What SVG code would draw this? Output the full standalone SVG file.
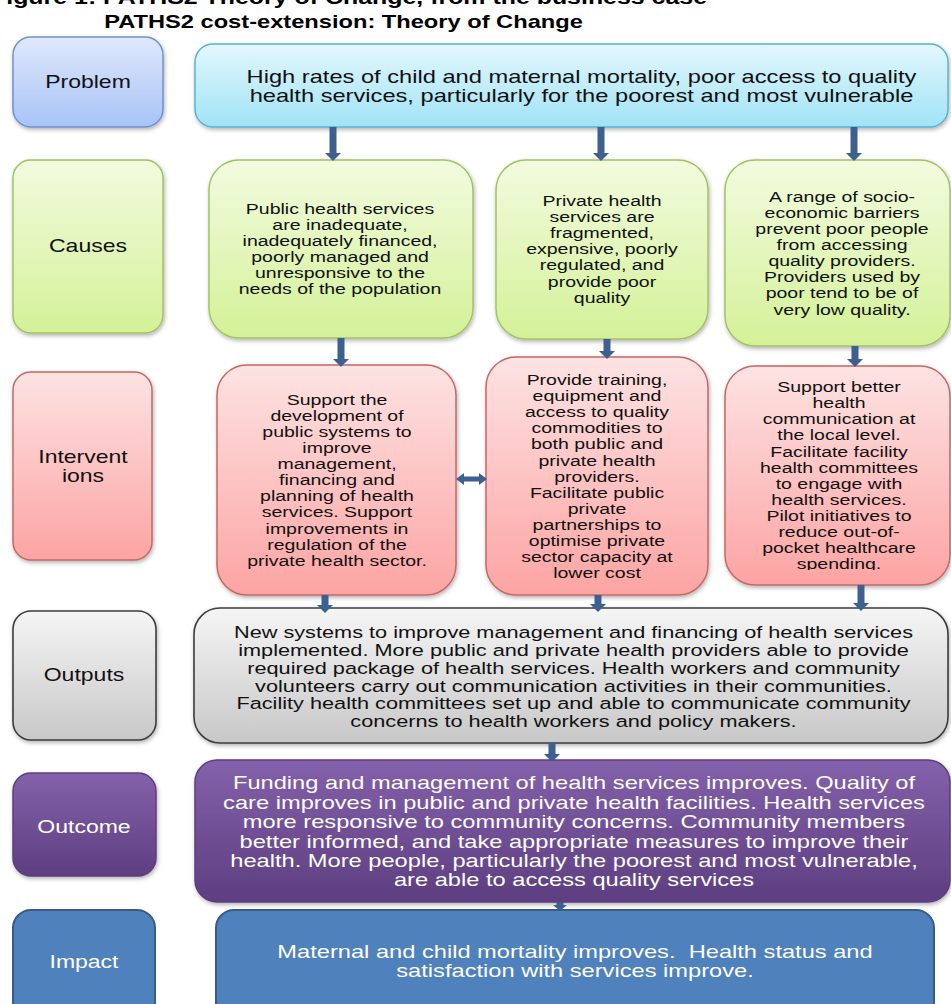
<svg xmlns="http://www.w3.org/2000/svg" width="951" height="1004" viewBox="0 0 951 1004">
<defs>
<linearGradient id="gProbL" x1="0" y1="0" x2="0" y2="1"><stop offset="0" stop-color="#e0e8fc"/><stop offset="1" stop-color="#a7c3f7"/></linearGradient>
<linearGradient id="gProb" x1="0" y1="0" x2="0" y2="1"><stop offset="0" stop-color="#e3f7fd"/><stop offset="1" stop-color="#a0e3f6"/></linearGradient>
<linearGradient id="gCause" x1="0" y1="0" x2="0" y2="1"><stop offset="0" stop-color="#f2fbdf"/><stop offset="1" stop-color="#d4f198"/></linearGradient>
<linearGradient id="gInt" x1="0" y1="0" x2="0" y2="1"><stop offset="0" stop-color="#fde3e3"/><stop offset="1" stop-color="#fca4a3"/></linearGradient>
<linearGradient id="gOut" x1="0" y1="0" x2="0" y2="1"><stop offset="0" stop-color="#f5f5f5"/><stop offset="1" stop-color="#c8c8c8"/></linearGradient>
<linearGradient id="gOc" x1="0" y1="0" x2="0" y2="1"><stop offset="0" stop-color="#8461ab"/><stop offset="1" stop-color="#5d3e80"/></linearGradient>
<filter id="sh" x="-10%" y="-10%" width="120%" height="130%"><feDropShadow dx="1" dy="2" stdDeviation="2" flood-color="#000" flood-opacity="0.3"/></filter>
<clipPath id="clipI3"><rect x="725" y="366" width="226" height="204"/></clipPath>
<style>
text{font-family:"Liberation Sans",Arial,sans-serif;text-anchor:middle;fill:#111;}
.lab{font-size:17.7px;}
.big{font-size:18.2px;}
.mid{font-size:16.7px;}
.sm{font-size:15px;}
.w{fill:#fff;}
.pre{white-space:pre;}
.pl{fill:url(#gProbL);stroke:#6f92cc;stroke-width:1.5;}
.pm{fill:url(#gProb);stroke:#5cb3cf;stroke-width:1.5;}
.cs{fill:url(#gCause);stroke:#a2c262;stroke-width:1.5;}
.iv{fill:url(#gInt);stroke:#c46866;stroke-width:1.5;}
.op{fill:url(#gOut);stroke:#3c3c3c;stroke-width:1.6;}
.oc{fill:url(#gOc);stroke:#5d3e80;stroke-width:1.5;}
.im{fill:#4f81bd;stroke:#375c8a;stroke-width:2;}
.arr{fill:#3d6090;stroke:none;}
</style>
</defs>
<rect width="951" height="1004" fill="#fff"/>

<g id="caption">
<text x="-9" y="3.5" style="text-anchor:start;font-weight:bold;font-size:20px;fill:#000" textLength="716" lengthAdjust="spacingAndGlyphs">Figure 1: PATHS2 Theory of Change, from the business case</text>
</g>
<g id="title">
<g transform="translate(343.5,0) scale(1.3,1)"><text x="0" y="28" style="font-weight:bold;font-size:18.2px;fill:#000">PATHS2 cost-extension: Theory of Change</text></g>
</g>

<g id="label-problem">
<rect class="pl" x="13" y="37" width="150" height="90" rx="18" filter="url(#sh)"/>
<g transform="translate(88,0) scale(1.3,1)"><text class="lab" y="88">Problem</text></g>
</g>
<g id="label-causes">
<rect class="cs" x="13" y="160" width="150" height="173" rx="18" filter="url(#sh)"/>
<g transform="translate(88,0) scale(1.3,1)"><text class="lab" y="252">Causes</text></g>
</g>
<g id="label-interventions">
<rect class="iv" x="13" y="372" width="139" height="188" rx="18" filter="url(#sh)"/>
<g transform="translate(83,0) scale(1.3,1)"><text class="lab" y="463">Intervent</text><text class="lab" y="482">ions</text></g>
</g>
<g id="label-outputs">
<rect class="op" x="13" y="611" width="143" height="129" rx="18" filter="url(#sh)"/>
<g transform="translate(84,0) scale(1.3,1)"><text class="lab" y="681">Outputs</text></g>
</g>
<g id="label-outcome">
<rect class="oc" x="13" y="773" width="143" height="103" rx="18" filter="url(#sh)"/>
<g transform="translate(84,0) scale(1.3,1)"><text class="lab w" y="833">Outcome</text></g>
</g>
<g id="label-impact">
<rect class="im" x="13" y="910" width="142" height="110" rx="18"/>
<g transform="translate(84,0) scale(1.3,1)"><text class="lab w" y="968">Impact</text></g>
</g>

<g id="problem">
<rect class="pm" x="195" y="44" width="753" height="83" rx="18" filter="url(#sh)"/>
<g transform="translate(581.5,0) scale(1.3,1)">
<text class="big" y="83">High rates of child and maternal mortality, poor access to quality</text>
<text class="big" y="102">health services, particularly for the poorest and most vulnerable</text>
</g>
</g>

<g id="cause-public">
<rect class="cs" x="209" y="160" width="264" height="178" rx="30" filter="url(#sh)"/>
<g transform="translate(340,0) scale(1.3,1)">
<text class="sm" y="214">Public health services</text>
<text class="sm" y="230">are inadequate,</text>
<text class="sm" y="246">inadequately financed,</text>
<text class="sm" y="262">poorly managed and</text>
<text class="sm" y="278">unresponsive to the</text>
<text class="sm" y="294">needs of the population</text>
</g>
</g>
<g id="cause-private">
<rect class="cs" x="496" y="160" width="212" height="179" rx="30" filter="url(#sh)"/>
<g transform="translate(602,0) scale(1.3,1)">
<text class="sm" y="206">Private health</text>
<text class="sm" y="222">services are</text>
<text class="sm" y="238">fragmented,</text>
<text class="sm" y="254">expensive, poorly</text>
<text class="sm" y="270">regulated, and</text>
<text class="sm" y="287">provide poor</text>
<text class="sm" y="303">quality</text>
</g>
</g>
<g id="cause-barriers">
<rect class="cs" x="725" y="160" width="225" height="186" rx="30" filter="url(#sh)"/>
<g transform="translate(842,0) scale(1.3,1)">
<text class="sm" y="202">A range of socio-</text>
<text class="sm" y="218">economic barriers</text>
<text class="sm" y="234">prevent poor people</text>
<text class="sm" y="250">from accessing</text>
<text class="sm" y="266">quality providers.</text>
<text class="sm" y="282">Providers used by</text>
<text class="sm" y="298">poor tend to be of</text>
<text class="sm" y="315">very low quality.</text>
</g>
</g>

<g id="int-public">
<rect class="iv" x="217" y="365" width="239" height="230" rx="30" filter="url(#sh)"/>
<g transform="translate(337,0) scale(1.3,1)">
<text class="sm" y="405">Support the</text>
<text class="sm" y="421">development of</text>
<text class="sm" y="437">public systems to</text>
<text class="sm" y="453">improve</text>
<text class="sm" y="469">management,</text>
<text class="sm" y="485">financing and</text>
<text class="sm" y="501">planning of health</text>
<text class="sm" y="517">services. Support</text>
<text class="sm" y="534">improvements in</text>
<text class="sm" y="550">regulation of the</text>
<text class="sm" y="566">private health sector.</text>
</g>
</g>
<g id="int-training">
<rect class="iv" x="486" y="357" width="222" height="238" rx="30" filter="url(#sh)"/>
<g transform="translate(597,0) scale(1.3,1)">
<text class="sm" y="385">Provide training,</text>
<text class="sm" y="401">equipment and</text>
<text class="sm" y="417">access to quality</text>
<text class="sm" y="433">commodities to</text>
<text class="sm" y="449">both public and</text>
<text class="sm" y="466">private health</text>
<text class="sm" y="482">providers.</text>
<text class="sm" y="498">Facilitate public</text>
<text class="sm" y="514">private</text>
<text class="sm" y="530">partnerships to</text>
<text class="sm" y="546">optimise private</text>
<text class="sm" y="562">sector capacity at</text>
<text class="sm" y="578">lower cost</text>
</g>
</g>
<g id="int-communication">
<rect class="iv" x="725" y="366" width="225" height="219" rx="30" filter="url(#sh)"/>
<g clip-path="url(#clipI3)">
<g transform="translate(839,0) scale(1.3,1)">
<text class="sm" y="392">Support better</text>
<text class="sm" y="408">health</text>
<text class="sm" y="424">communication at</text>
<text class="sm" y="440">the local level.</text>
<text class="sm" y="457">Facilitate facility</text>
<text class="sm" y="473">health committees</text>
<text class="sm" y="489">to engage with</text>
<text class="sm" y="505">health services.</text>
<text class="sm" y="521">Pilot initiatives to</text>
<text class="sm" y="537">reduce out-of-</text>
<text class="sm" y="553">pocket healthcare</text>
<text class="sm" y="569">spending.</text>
</g>
</g>
</g>

<g id="outputs">
<rect class="op" x="194" y="608" width="754" height="135" rx="26" filter="url(#sh)"/>
<g transform="translate(573.5,0) scale(1.3,1)">
<text class="mid" y="638">New systems to improve management and financing of health services</text>
<text class="mid" y="656">implemented. More public and private health providers able to provide</text>
<text class="mid" y="674">required package of health services. Health workers and community</text>
<text class="mid" y="692">volunteers carry out communication activities in their communities.</text>
<text class="mid" y="709">Facility health committees set up and able to communicate community</text>
<text class="mid" y="727">concerns to health workers and policy makers.</text>
</g>
</g>

<g id="outcome">
<rect class="oc" x="195" y="760" width="755" height="142" rx="22" filter="url(#sh)"/>
<g transform="translate(574,0) scale(1.3,1)">
<text class="big w" y="789">Funding and management of health services improves. Quality of</text>
<text class="big w" y="809">care improves in public and private health facilities. Health services</text>
<text class="big w" y="828">more responsive to community concerns. Community members</text>
<text class="big w" y="848">better informed, and take appropriate measures to improve their</text>
<text class="big w" y="867">health. More people, particularly the poorest and most vulnerable,</text>
<text class="big w" y="886">are able to access quality services</text>
</g>
</g>

<g id="impact">
<rect class="im" x="216" y="910" width="718" height="110" rx="18"/>
<g transform="translate(575,0) scale(1.3,1)">
<text class="big w pre" y="958">Maternal and child mortality improves.  Health status and</text>
<text class="big w" y="977">satisfaction with services improve.</text>
</g>
</g>

<g id="connectors">
<path class="arr" d="M329.5,127 H336.5 V153 H341 L333,161 L325,153 H329.5 Z"/>
<path class="arr" d="M597.5,127 H604.5 V153 H609 L601,161 L593,153 H597.5 Z"/>
<path class="arr" d="M850.5,127 H857.5 V153 H862 L854,161 L846,153 H850.5 Z"/>
<path class="arr" d="M337.5,338 H344.5 V359 H349 L341,367 L333,359 H337.5 Z"/>
<path class="arr" d="M603.5,339 H610.5 V351 H615 L607,359 L599,351 H603.5 Z"/>
<path class="arr" d="M851.5,346 H858.5 V359 H863 L855,367 L847,359 H851.5 Z"/>
<path class="arr" d="M321.5,595 H328.5 V605 H333 L325,613 L317,605 H321.5 Z"/>
<path class="arr" d="M594.5,595 H601.5 V604 H606 L598,612 L590,604 H594.5 Z"/>
<path class="arr" d="M857.5,585 H864.5 V603 H869 L861,611 L853,603 H857.5 Z"/>
<path class="arr" d="M548.5,743 H555.5 V754 H560 L552,762 L544,754 H548.5 Z"/>
<path class="arr" d="M556.5,902 H563.5 V905 H567 L560,911 L553,905 H556.5 Z"/>
<path class="arr" d="M456,479 L464,473 V476.5 H479 V473 L487,479 L479,485 V481.5 H464 V485 Z"/>
</g>
</svg>
